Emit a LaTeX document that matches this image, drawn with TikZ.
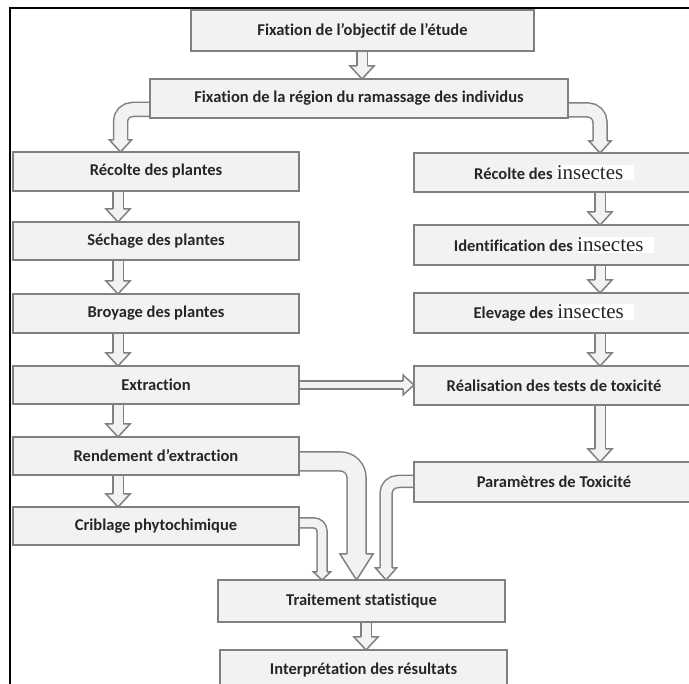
\documentclass[tikz,border=0pt]{standalone}
\usepackage{fontspec}
\setmainfont[Ligatures={TeX,NoCommon}]{Carlito}
\newfontfamily\seriffont{Liberation Serif}
\usetikzlibrary{calc,backgrounds}
\definecolor{bord}{RGB}{128,128,128}
\definecolor{fond}{RGB}{242,242,242}
\newcommand{\insectes}{{\setlength{\fboxsep}{0.5pt}\colorbox{white}{\seriffont\mdseries\fontsize{21}{21}\selectfont insectes\hspace{10pt}}}}
% tete de fleche creuse : [angle]{pointe}{demi-largeur tige}{demi-largeur tete}{longueur}
\newcommand{\pointe}[5][-90]{%
  \filldraw[tete, shift={(#2)}, rotate=#1] (-#5pt,#3pt) -- (-#5pt,#4pt) -- (0pt,0pt) -- (-#5pt,-#4pt) -- (-#5pt,-#3pt);}
\newcommand{\descente}[3]{%
  \draw[tube=9pt] (#2.south -| #1) -- ($(#3.north -| #1)+(0,-13)$);
  \pointe{#3.north -| #1}{5.25}{12}{13}}

\begin{document}
\begin{tikzpicture}[x=1pt, y=-1pt,
                   boite/.style={draw=bord, fill=fond, line width=2pt, outer sep=0pt, inner sep=2pt,
                                 minimum width=286pt, minimum height=39pt, text=black!85,
                                 font=\fontsize{16.5}{19}\selectfont\bfseries},
                   tube/.style={draw=bord, line width=1.5pt, double=fond, double distance=#1},
                   tete/.style={draw=bord, fill=fond, line width=1.5pt, line join=miter}]
\useasboundingbox (0,0) rectangle (689,684);
\clip (0,0) rectangle (689,684);

\node[boite, minimum width=343pt, minimum height=41pt] (obj) at (362.5,30.5) {Fixation de l’objectif de l’étude};
\node[boite, minimum width=418pt] (reg) at (359,98.5) {Fixation de la région du ramassage des individus};

\node[boite] (rp) at (156,171.5) {Récolte des plantes};
\node[boite, minimum height=38pt] (sp) at (156,241) {Séchage des plantes};
\node[boite] (bp) at (156,313.5) {Broyage des plantes};
\node[boite, minimum height=38pt] (ex) at (156,385) {Extraction};
\node[boite, minimum height=38pt] (re) at (156,456) {Rendement d’extraction};
\node[boite, minimum height=38pt] (cp) at (156,526) {Criblage phytochimique};

\node[boite, minimum width=280pt] (ri) at (554,172.5) {Récolte des \insectes};
\node[boite, minimum width=280pt, minimum height=40pt] (ii) at (554,245) {Identification des \insectes};
\node[boite, minimum width=280pt, minimum height=40pt] (ei) at (554,313) {Elevage des \insectes};
\node[boite, minimum width=280pt] (rt) at (554,385.5) {Réalisation des tests de toxicité};
\node[boite, minimum width=280pt, minimum height=40pt] (pt) at (554,482) {Paramètres de Toxicité};

\node[boite, minimum width=287pt, minimum height=42pt] (ts) at (361.5,601) {Traitement statistique};
\node[boite, minimum width=287pt, minimum height=40pt] (ir) at (363.5,670) {Interprétation des résultats};

\coordinate (gauche) at (118,0);
\coordinate (coudeG) at (120.5,0);
\coordinate (droite) at (600,0);
\coordinate (milieu) at (362,0);
\coordinate (bas) at (366,0);
\coordinate (coudeRe) at (356.5,0);
\coordinate (coudeCp) at (322,0);
\coordinate (coudePt) at (386,0);

\begin{scope}[on background layer]
\descente{milieu}{obj}{reg}
\draw[tube=12.5pt, rounded corners=12pt] ([yshift=-11pt]reg.west) -| ($(rp.north -| coudeG)+(0,-12)$);
\pointe{rp.north -| coudeG}{7}{11}{12}
\draw[tube=12.5pt, rounded corners=12pt] ([yshift=-11.5pt]reg.east) -| ($(ri.north -| droite)+(0,-12)$);
\pointe{ri.north -| droite}{7}{11}{12}

\descente{gauche}{rp}{sp}
\descente{gauche}{sp}{bp}
\descente{gauche}{bp}{ex}
\descente{gauche}{ex}{re}
\descente{gauche}{re}{cp}

\descente{droite}{ri}{ii}
\descente{droite}{ii}{ei}
\descente{droite}{ei}{rt}
\descente{droite}{rt}{pt}

\draw[tube=6.5pt] (ex.east) -- ($(ex.east -| rt.west)+(-11,0)$);
\pointe[0]{ex.east -| rt.west}{4}{10}{11}

\draw[tube=17.5pt, rounded corners=16pt] ([yshift=-5.5pt]re.east) -| ($(ts.north -| coudeRe)+(0,-26)$);
\pointe{ts.north -| coudeRe}{9.5}{16.5}{26}
\draw[tube=8.5pt, rounded corners=8pt] ([yshift=3pt]cp.east) -| ($(ts.north -| coudeCp)+(0,-8)$);
\pointe{ts.north -| coudeCp}{5}{8.5}{8}
\draw[tube=10.5pt, rounded corners=12pt] ([yshift=0.5pt]pt.west) -| ($(ts.north -| coudePt)+(0,-12)$);
\pointe{ts.north -| coudePt}{6}{10.5}{12}

\descente{bas}{ts}{ir}
\end{scope}

\draw[line width=2pt] (10,684) -- (10,8) -- (689,8);
\end{tikzpicture}
\end{document}
